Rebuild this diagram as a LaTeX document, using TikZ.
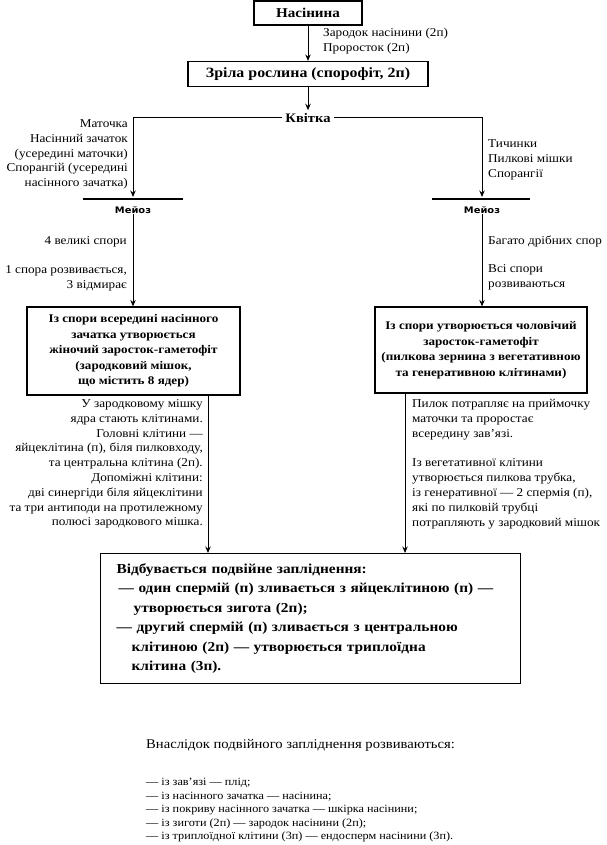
\documentclass[tikz,border=0pt]{standalone}
\usepackage{fontspec}
\setmainfont[FakeStretch=1.1,BoldFeatures={FakeStretch=1.12}]{Liberation Serif}
\newfontfamily\meifont[FakeStretch=1.1]{DejaVu Sans}
\usetikzlibrary{arrows.meta}
\begin{document}
\begin{tikzpicture}[x=1pt,y=-1pt,
  box/.style={draw,line width=1.2pt,inner sep=2pt,align=center,font=\bfseries\fontsize{11.7}{15.5}\selectfont},
  bigbox/.style={box,font=\bfseries\fontsize{14.2}{16}\selectfont},
  lbl/.style={font=\fontsize{12}{14.8}\selectfont,inner sep=0pt},
  arr/.style={line width=1pt,-{Stealth[length=6.5pt,width=5.5pt,inset=2.2pt]}},
  ln/.style={line width=1pt},
  bar/.style={line width=2.4pt},
  mei/.style={font=\meifont\bfseries\fontsize{9}{10}\selectfont,inner sep=0pt}]
\useasboundingbox (0,0) rectangle (607,845);

% top chain
\node[bigbox, minimum width=108pt, minimum height=24pt, font=\bfseries\fontsize{13.5}{16}\selectfont] (seed) at (308,13) {Насінина};
\node[bigbox, minimum width=240pt, minimum height=25pt] (plant) at (308,74) {Зріла рослина (спорофіт, 2п)};
\draw[arr] (seed) -- (plant);
\node[lbl, anchor=west, align=left] (l1) at (323,41.5) {Зародок насінини (2п)\\Проросток (2п)};
\node[font=\bfseries\fontsize{13}{14}\selectfont, inner sep=3pt] (flower) at (308,118) {Квітка};
\draw[arr] (plant) -- (flower);

% meiosis bars
\coordinate (lbarL) at (83,199);
\coordinate (lbarR) at (183,199);
\coordinate (lbar) at (133,197);
\coordinate (rbarL) at (432,199);
\coordinate (rbarR) at (530,199);
\coordinate (rbar) at (482,197);
\draw[bar] (lbarL) -- (lbarR);
\draw[bar] (rbarL) -- (rbarR);
\node[mei] (lmei) at (133,210) {Мейоз};
\node[mei] (rmei) at (482,210) {Мейоз};
\draw[arr] (flower.west) -| (lbar);
\draw[arr] (flower.east) -| (rbar);

\node[lbl, anchor=east, align=right] (lorg) at (128,154.5) {Маточка\\Насінний зачаток\\(усередині маточки)\\Спорангій (усередині\\насінного зачатка)};
\node[lbl, anchor=west, align=left] (rorg) at (488,160) {Тичинки\\Пилкові мішки\\Спорангії};

% gametophyte boxes
\node[box, minimum width=213pt, minimum height=88pt] (lbox) at (133.5,351) {Із спори всередині насінного\\зачатка утворюється\\жіночий заросток-гаметофіт\\(зародковий мішок,\\що містить 8 ядер)};
\node[box, minimum width=212pt, minimum height=86pt] (rbox) at (481,350) {Із спори утворюється чоловічий\\заросток-гаметофіт\\(пилкова зернина з вегетативною\\та генеративною клітинами)};
\draw[arr] (lmei.south) -- (lmei.south |- lbox.north);
\draw[arr] (rmei.south) -- (rmei.south |- rbox.north);

\node[lbl, anchor=east, align=right] (lsp1) at (127,242) {4 великі спори};
\node[lbl, anchor=east, align=right] (lsp2) at (127,278) {1 спора розвивається,\\3 відмирає};
\node[lbl, anchor=west, align=left] (rsp1) at (488,241) {Багато дрібних спор};
\node[lbl, anchor=west, align=left] (rsp2) at (488,277) {Всі спори\\розвиваються};

% fertilization box
\node[draw, line width=1.2pt, anchor=north west, minimum width=420pt, minimum height=130pt,
      text width=388pt, inner xsep=16pt, align=left,
      font=\bfseries\fontsize{13.7}{19.4}\selectfont] (fert) at (100,553)
 {Відбувається подвійне запліднення:\\
  \hspace*{2pt}— один спермій (п) зливається з яйцеклітиною (п) —\\
  \hspace*{17pt}утворюється зигота (2п);\\
  — другий спермій (п) зливається з центральною\\
  \hspace*{15pt}клітиною (2п) — утворюється триплоїдна\\
  \hspace*{15pt}клітина (3п).};

\coordinate (la) at (208,395);
\coordinate (ra) at (405,393);
\draw[arr] (la) -- (la |- fert.north);
\draw[arr] (ra) -- (ra |- fert.north);

\node[lbl, anchor=east, align=right] (ltxt) at (203,464) {У зародковому мішку\\ядра стають клітинами.\\Головні клітини —\\яйцеклітина (п), біля пилковходу,\\та центральна клітина (2п).\\Допоміжні клітини:\\дві синергіди біля яйцеклітини\\та три антиподи на протилежному\\полюсі зародкового мішка.};
\node[lbl, anchor=west, align=left] (rtxt) at (412,464) {Пилок потрапляє на приймочку\\маточки та проростає\\всередину зав’язі.\\[14.8pt]Із вегетативної клітини\\утворюється пилкова трубка,\\із генеративної — 2 спермія (п),\\які по пилковій трубці\\потрапляють у зародковий мішок};

% bottom text
\node[anchor=west, inner sep=0pt, font=\fontsize{13.3}{16}\selectfont] (res) at (146,745) {Внаслідок подвійного запліднення розвиваються:};
\node[anchor=west, inner sep=0pt, align=left, font=\fontsize{11.1}{13.5}\selectfont] (list) at (146,810)
 {— із зав’язі — плід;\\
  — із насінного зачатка — насінина;\\
  — із покриву насінного зачатка — шкірка насінини;\\
  — із зиготи (2п) — зародок насінини (2п);\\
  — із триплоїдної клітини (3п) — ендосперм насінини (3п).};
\end{tikzpicture}
\end{document}
